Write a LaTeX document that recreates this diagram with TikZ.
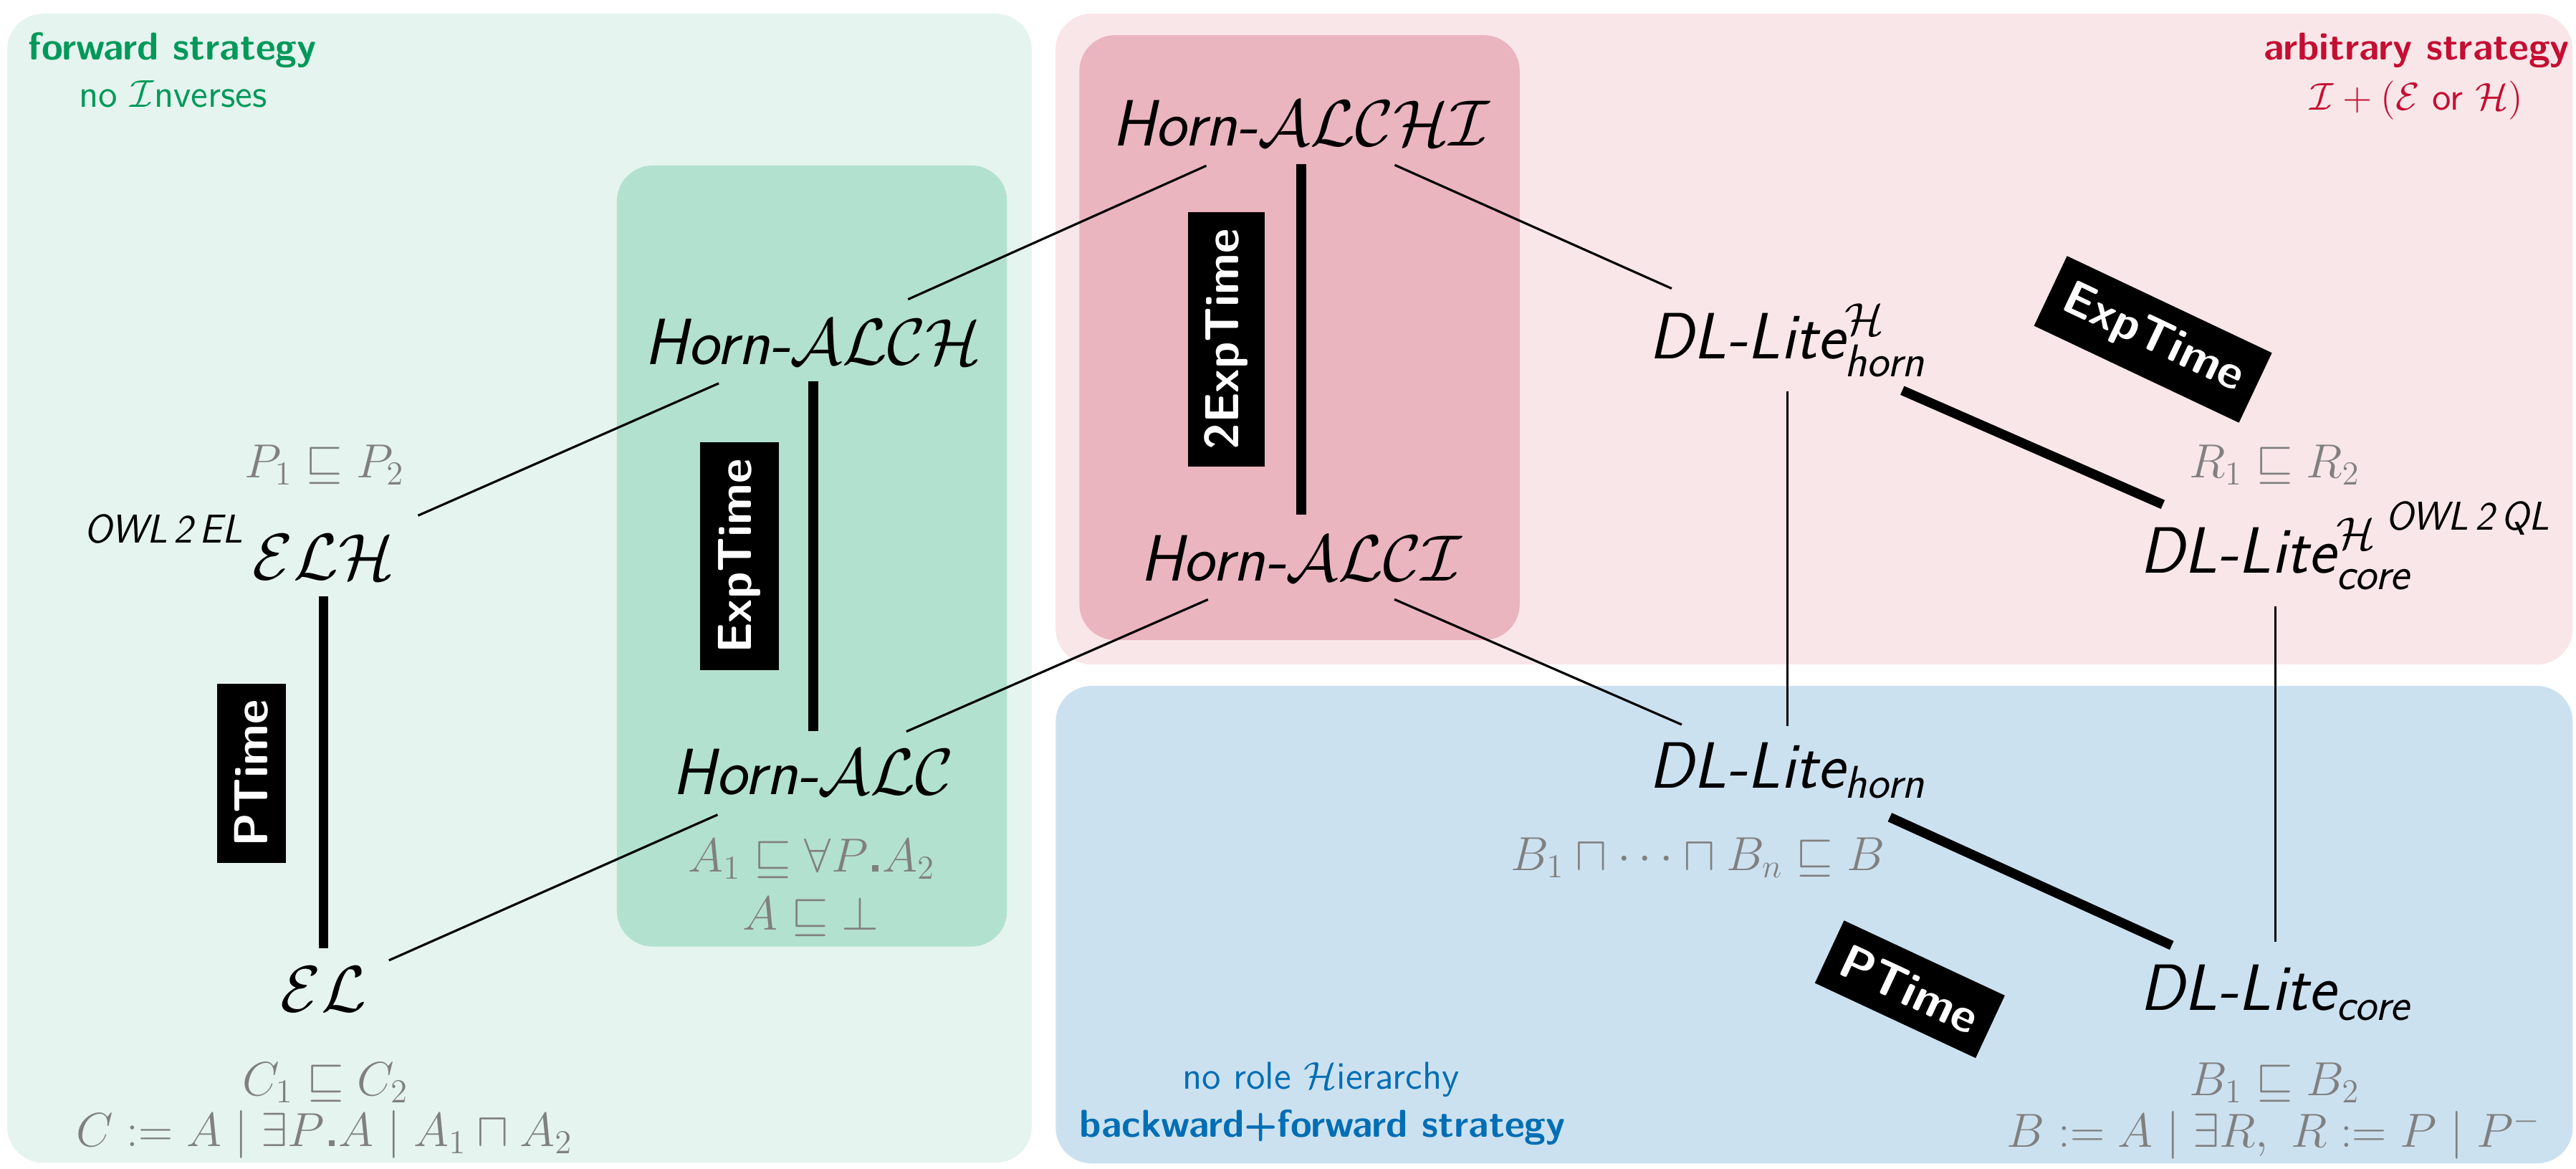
\RequirePackage{fix-cm}
\documentclass[tikz,border=0pt]{standalone}
\usepackage{amsmath}
\usepackage{fontspec}

\definecolor{bggreen}{HTML}{E5F4EF}
\definecolor{bggreendark}{HTML}{B3E1CF}
\definecolor{bgpink}{HTML}{F9E6E9}
\definecolor{bgpinkdark}{HTML}{EAB5BF}
\definecolor{bgblue}{HTML}{CCE1F0}
\definecolor{fwdgreen}{HTML}{00995A}
\definecolor{arbred}{HTML}{C40E32}
\definecolor{bwdblue}{HTML}{006EB4}
\definecolor{axgray}{HTML}{808080}

% square dot separating a role restriction from its filler
\newcommand{\rdot}{\mkern1.5mu\rule{0.13em}{0.13em}\mkern1.5mu}

\tikzset{
  logic/.style={font=\sffamily\itshape\fontsize{26}{30}\selectfont, inner sep=0pt},
  owl/.style={font=\sffamily\itshape\fontsize{16}{18}\selectfont, inner sep=0pt, anchor=base},
  axiom/.style={text=axgray, font=\fontsize{19}{22}\selectfont, inner sep=0pt, anchor=base},
  caption/.style={font=\sffamily\fontsize{15.4}{18}\selectfont, inner sep=0pt, anchor=base},
  headline/.style={font=\sffamily\bfseries\fontsize{15.4}{18}\selectfont, inner sep=0pt, anchor=base},
  cplx/.style={fill=black, text=white, font=\sffamily\bfseries\fontsize{19}{22}\selectfont, inner sep=0pt},
  linkthin/.style={line width=0.9pt},
  linkthick/.style={line width=3.8pt},
  region/.style={rounded corners=0.5cm},
}

\begin{document}
\begin{tikzpicture}[x=0.022927cm, y=-0.022927cm]
\useasboundingbox (0,0) rectangle (1568,711);

% coloured regions
\fill[bggreen, region] (4.4,8.4) rectangle (628,707.5);
\fill[bggreendark, region] (375.5,100.7) rectangle (613,576);
\fill[bgpink, region] (642.5,8.4) rectangle (1566,404.4);
\fill[bgpinkdark, region] (657,21.4) rectangle (925,389.5);
\fill[bgblue, region] (642.6,417.4) rectangle (1566,708);

% region captions
\node[headline, text=fwdgreen] (fwd) at (105,36.3) {forward strategy};
\node[caption, text=fwdgreen] (noinv) at (105.3,65.4) {no $\mathcal{I}$nverses};
\node[headline, text=arbred] (arb) at (1471,36.3) {arbitrary strategy};
\node[caption, text=arbred] (ieh) at (1471,66.9) {$\mathcal{I}+(\mathcal{E}$ or $\mathcal{H})$};
\node[caption, text=bwdblue] (nohier) at (804,662.6) {no role $\mathcal{H}$ierarchy};
\node[headline, text=bwdblue] (bwd) at (805,691.8) {backward+forward strategy};

% description logics
\node[logic] (elh) at (197,339) {$\mathcal{ELH}$};
\node[logic] (el) at (197,602) {$\mathcal{EL}$};
\node[logic] (halch) at (495,208) {Horn-$\mathcal{ALCH}$};
\node[logic] (halc) at (495,470) {Horn-$\mathcal{ALC}$};
\node[logic] (halchi) at (792,75) {Horn-$\mathcal{ALCHI}$};
\node[logic] (halci) at (792,340) {Horn-$\mathcal{ALCI}$};
\node[logic] (dlhh) at (1088,207) {DL-Lite$^{\mathcal{H}}_{\textit{horn}}$};
\node[logic] (dlhc) at (1385,337) {DL-Lite$^{\mathcal{H}}_{\textit{core}}$};
\node[logic] (dlh) at (1088,469) {DL-Lite$_{\textit{horn}}$};
\node[logic] (dlc) at (1385,604) {DL-Lite$_{\textit{core}}$};

\node[owl] (owlel) at (99.6,330.6) {OWL\,2\,EL};
\node[owl] (owlql) at (1502,322.6) {OWL\,2\,QL};

% axiom shapes
\node[axiom] (axp) at (197.5,290.5) {$P_1\sqsubseteq P_2$};
\node[axiom] (axc1) at (198,666.5) {$C_1\sqsubseteq C_2$};
\node[axiom] (axc2) at (197.5,697.5) {$C := A \mid \exists P\rdot A \mid A_1\sqcap A_2$};
\node[axiom] (axall) at (494,530.4) {$A_1\sqsubseteq \forall P\rdot A_2$};
\node[axiom] (axbot) at (493.5,565.7) {$A\sqsubseteq\bot$};
\node[axiom] (axr) at (1384.5,290.6) {$R_1\sqsubseteq R_2$};
\node[axiom] (axbn) at (1033.5,529.5) {$B_1\sqcap\cdots\sqcap B_n\sqsubseteq B$};
\node[axiom] (axb1) at (1384.5,666.5) {$B_1\sqsubseteq B_2$};
\node[axiom] (axb2) at (1384,698) {$B := A \mid \exists R,\ R := P \mid P^{-}$};

% complexity tags
\node[cplx, rotate=90, minimum width=2.50cm, minimum height=0.963cm] (cpt) at (153,470.5) {PTime};
\node[cplx, rotate=90, minimum width=3.187cm, minimum height=1.10cm] (cexp) at (450,338.5) {ExpTime};
\node[cplx, rotate=90, minimum width=3.554cm, minimum height=1.078cm] (c2exp) at (746.5,206.5) {2ExpTime};
\node[cplx, rotate=-25.3, minimum width=3.164cm, minimum height=1.078cm] (cexpr) at (1310.5,206.5) {ExpTime};
\node[cplx, rotate=-25, minimum width=2.476cm, minimum height=0.963cm] (cptr) at (1162.5,602) {PTime};

% inclusions between languages
\draw[linkthin, shorten <=1.44cm, shorten >=1.44cm] (elh.center) -- (halch.center);
\draw[linkthin, shorten <=0.997cm, shorten >=1.46cm] (el.center) -- (halc.center);
\draw[linkthin, shorten <=1.45cm, shorten >=1.45cm] (halch.center) -- (halchi.center);
\draw[linkthin, shorten <=1.42cm, shorten >=1.42cm] (halc.center) -- (halci.center);
\draw[linkthin, shorten <=1.43cm, shorten >=1.77cm] (halchi.center) -- (dlhh.center);
\draw[linkthin, shorten <=1.42cm, shorten >=1.61cm] (halci.center) -- (dlh.center);
\draw[linkthin, shorten <=0.71cm, shorten >=0.62cm] (dlhh.center) -- (dlh.center);
\draw[linkthin, shorten <=0.734cm, shorten >=0.71cm] (dlhc.center) -- (dlc.center);

% steps that keep the complexity
\draw[linkthick, shorten <=0.55cm, shorten >=0.573cm] (elh.center) -- (el.center);
\draw[linkthick, shorten <=0.55cm, shorten >=0.573cm] (halch.center) -- (halc.center);
\draw[linkthick, shorten <=0.573cm, shorten >=0.62cm] (halchi.center) -- (halci.center);
\draw[linkthick, shorten <=1.75cm, shorten >=1.715cm] (dlhh.center) -- (dlhc.center);
\draw[linkthick, shorten <=1.57cm, shorten >=1.59cm] (dlh.center) -- (dlc.center);

\end{tikzpicture}
\end{document}
